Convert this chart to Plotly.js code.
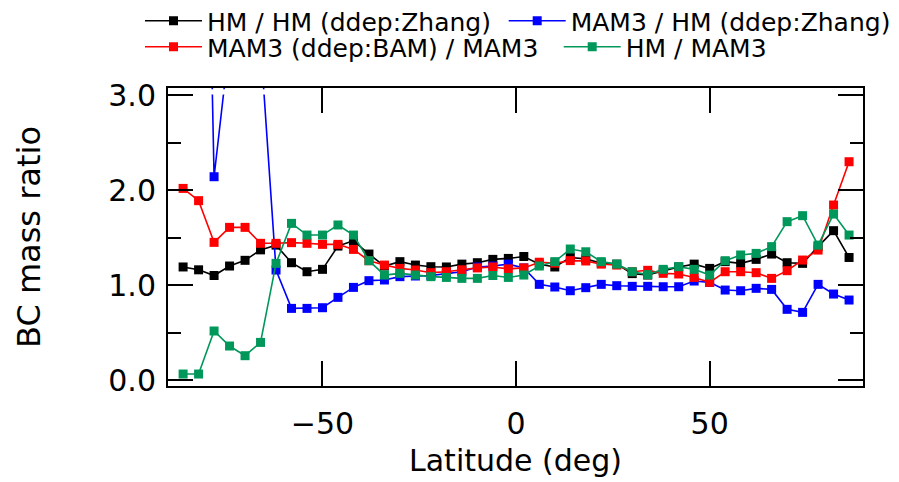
<!DOCTYPE html>
<html>
<head>
<meta charset="utf-8">
<script src="https://cdn.plot.ly/plotly-3.0.1.min.js"></script>
<style>html,body{margin:0;padding:0;background:#fff;}#chart{width:899px;height:482px;}</style>
</head>
<body>
<div id="chart"></div>
<script>
// Latitude grid (deg)
const latitude = [-86,-82,-78,-74,-70,-66,-62,-58,-54,-50,-46,-42,-38,-34,-30,-26,-22,-18,-14,-10,-6,-2,
                  2,6,10,14,18,22,26,30,34,38,42,46,50,54,58,62,66,70,74,78,82,86];

// Series names
const seriesNames = ["HM / HM (ddep:Zhang)", "MAM3 / HM (ddep:Zhang)", "MAM3 (ddep:BAM) / MAM3", "HM / MAM3"];

// BC mass ratio values
const hmHmZhang = [1.19,1.16,1.10,1.20,1.26,1.37,1.42,1.235,1.14,1.165,1.41,1.466,1.326,1.20,1.246,1.21,1.193,1.19,1.22,1.235,1.27,1.28,
                   1.30,1.22,1.19,1.29,1.275,1.23,1.22,1.12,1.105,1.15,1.19,1.22,1.175,1.246,1.228,1.27,1.326,1.235,1.228,1.404,1.572,1.29];
const mam3HmZhang = [8.0,10.0,2.14,3.37,5.0,3.55,1.158,0.754,0.754,0.761,0.870,0.975,1.046,1.053,1.088,1.095,1.10,1.12,1.14,1.19,1.20,1.22,
                     1.18,1.007,0.979,0.94,0.972,1.007,0.993,0.986,0.986,0.982,0.982,1.042,1.028,0.947,0.94,0.965,0.954,0.744,0.712,1.007,0.905,0.842];
const mam3BamMam3 = [2.017,1.888,1.449,1.607,1.607,1.439,1.439,1.446,1.439,1.428,1.428,1.375,1.256,1.21,1.175,1.158,1.13,1.14,1.16,1.18,1.19,1.17,
                     1.18,1.24,1.23,1.257,1.253,1.22,1.21,1.14,1.155,1.123,1.116,1.08,1.028,1.14,1.14,1.13,1.07,1.151,1.263,1.368,1.842,2.298];
const hmMam3 = [0.063,0.063,0.516,0.358,0.256,0.396,1.228,1.649,1.526,1.526,1.632,1.526,1.256,1.105,1.123,1.105,1.088,1.08,1.07,1.07,1.10,1.08,
                1.105,1.20,1.246,1.379,1.35,1.246,1.22,1.14,1.11,1.165,1.193,1.165,1.105,1.256,1.316,1.333,1.404,1.667,1.73,1.42,1.747,1.526];

const yTickVals = [0, 1, 2, 3];
const yMinorVals = [0.5, 1.5, 2.5];
const xTickVals = [-50, 0, 50];

const colors = ["#000000", "#0000ff", "#ff0000", "#00975a"];
const seriesValues = [hmHmZhang, mam3HmZhang, mam3BamMam3, hmMam3];
const legendIds = ["legend", "legend2", "legend3", "legend4"];

const FONT = "DejaVu Sans";
const xRange = [-89.9, 89.6];
const yRange = [-0.063, 3.074];
const clipTop = 3.0;   // the original clips off-scale lines at the 3.0 tick, just below the frame

const traces = seriesValues.map((vals, i) => ({
  type: "scatter",
  mode: "lines+markers",
  x: latitude,
  y: vals,
  name: seriesNames[i],
  legend: legendIds[i],
  line: {color: colors[i], width: 1.6},
  marker: {symbol: "square", size: 9, color: colors[i]}
}));

// empty trace that carries the tick-only overlay axes (x2, y2)
traces.push({type: "scatter", mode: "markers", x: [], y: [], xaxis: "x2", yaxis: "y2",
             showlegend: false, hoverinfo: "skip"});

const legendFont = {family: FONT, size: 25, color: "#000"};
function leg(x, y) {
  return {x: x, y: y, xanchor: "left", yanchor: "middle", orientation: "h",
          font: legendFont, bgcolor: "rgba(0,0,0,0)", borderwidth: 0, itemwidth: 57,
          itemclick: false, itemdoubleclick: false};
}

const layout = {
  width: 899, height: 482,
  margin: {l: 168, r: 36, t: 88, b: 96, pad: 0, autoexpand: false},
  paper_bgcolor: "#ffffff", plot_bgcolor: "#ffffff",
  showlegend: true,
  // labelled axes: frame, tick labels and titles
  xaxis: {
    range: xRange, tickvals: xTickVals, ticks: "",
    showline: true, linewidth: 2, linecolor: "#000", mirror: true, showgrid: false, zeroline: false,
    tickfont: {family: FONT, size: 30, color: "#000"}, ticklabelstandoff: 10,
    title: {text: "Latitude (deg)", font: {family: FONT, size: 30, color: "#000"}, standoff: 10},
    fixedrange: true
  },
  yaxis: {
    range: yRange, tickvals: yTickVals, tickformat: ".1f", ticks: "",
    showline: true, linewidth: 2, linecolor: "#000", mirror: true, showgrid: false, zeroline: false,
    tickfont: {family: FONT, size: 30, color: "#000"}, ticklabelstandoff: 4,
    title: {text: "BC mass ratio", font: {family: FONT, size: 32, color: "#000"}, standoff: 58},
    fixedrange: true
  },
  // tick-only overlay axes: inside ticks on all four sides
  xaxis2: {
    overlaying: "x", anchor: "y2", side: "bottom", range: xRange, tickvals: xTickVals,
    ticks: "inside", ticklen: 25, tickwidth: 2, tickcolor: "#000",
    showline: true, linewidth: 2, linecolor: "#000", mirror: "ticks",
    showticklabels: false, showgrid: false, zeroline: false, fixedrange: true
  },
  yaxis2: {
    overlaying: "y", anchor: "x2", side: "left", range: yRange, tickvals: yTickVals,
    ticks: "inside", ticklen: 25, tickwidth: 2, tickcolor: "#000",
    minor: {tickvals: yMinorVals, ticks: "inside", ticklen: 13, tickwidth: 2, tickcolor: "#000"},
    showline: true, linewidth: 2, linecolor: "#000", mirror: "ticks",
    showticklabels: false, showgrid: false, zeroline: false, fixedrange: true
  },
  shapes: [{type: "rect", layer: "above", xref: "x", yref: "y",
            x0: -81, x1: -63, y0: clipTop + 0.006, y1: yRange[1] - 0.014,
            fillcolor: "#ffffff", line: {width: 0}}],
  legend: leg((140 - 168) / 695, (386 - 21) / 298),
  legend2: leg((503.7 - 168) / 695, (386 - 21) / 298),
  legend3: leg((140 - 168) / 695, (386 - 47) / 298),
  legend4: leg((558.7 - 168) / 695, (386 - 47) / 298)
};

Plotly.newPlot("chart", traces, layout, {staticPlot: true, displayModeBar: false});
</script>
</body>
</html>
